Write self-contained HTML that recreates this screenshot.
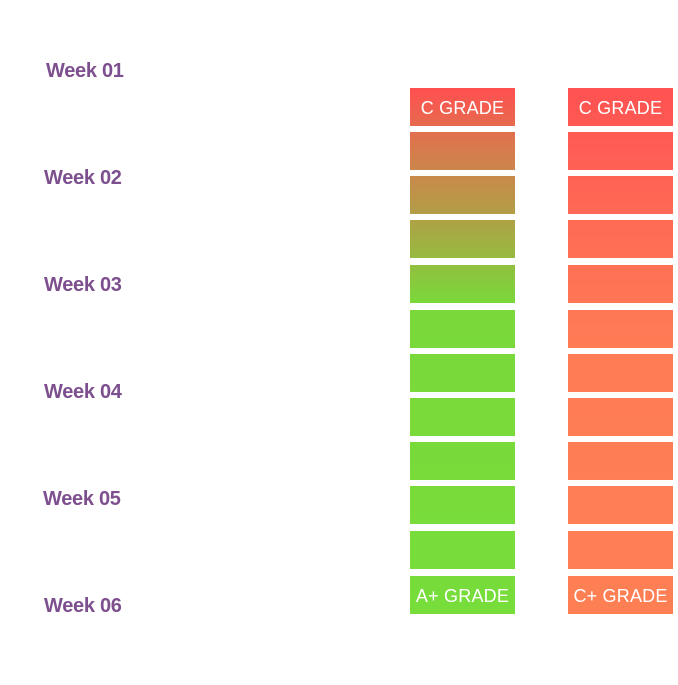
<!DOCTYPE html>
<html><head><meta charset="utf-8"><style>
body{margin:0;width:678px;height:685px;background:#fff;position:relative;overflow:hidden;font-family:"Liberation Sans",sans-serif}
.w{position:absolute;left:44px;font-weight:bold;font-size:20px;color:#7d4f8e;line-height:20px;letter-spacing:-0.3px}
.r{position:absolute;width:105px;height:38px;color:#fff;font-size:18px;text-align:center;line-height:40px;letter-spacing:0.2px}
.L{left:410px;background:linear-gradient(#ff4f50 0px,#d87a4d 60px,#b0a046 130px,#7ad83a 215px,#77dd3a 526px);background-size:105px 526px}
.R{left:568px;background:linear-gradient(#ff5252 0px,#ff6a55 130px,#ff7c55 260px,#ff7f55 526px);background-size:105px 526px}
</style></head><body>
<div class="w" style="top:61px;left:46px">Week 01</div>
<div class="w" style="top:168px">Week 02</div>
<div class="w" style="top:275px">Week 03</div>
<div class="w" style="top:382px">Week 04</div>
<div class="w" style="top:489px;left:43px">Week 05</div>
<div class="w" style="top:596px">Week 06</div>
<div id="c"></div>
<script>
var ys=[88,132,176,220,265,310,354,398,442,486,531,576];
var h='';
ys.forEach(function(y,i){
 var off=-(y-88);
 var lt=i==0?'C GRADE':(i==11?'A+ GRADE':'');
 var rt=i==0?'C GRADE':(i==11?'C+ GRADE':'');
 h+='<div class="r L" style="top:'+y+'px;background-position:0 '+off+'px">'+lt+'</div>';
 h+='<div class="r R" style="top:'+y+'px;background-position:0 '+off+'px">'+rt+'</div>';
});
document.getElementById('c').innerHTML=h;
</script>
</body></html>
